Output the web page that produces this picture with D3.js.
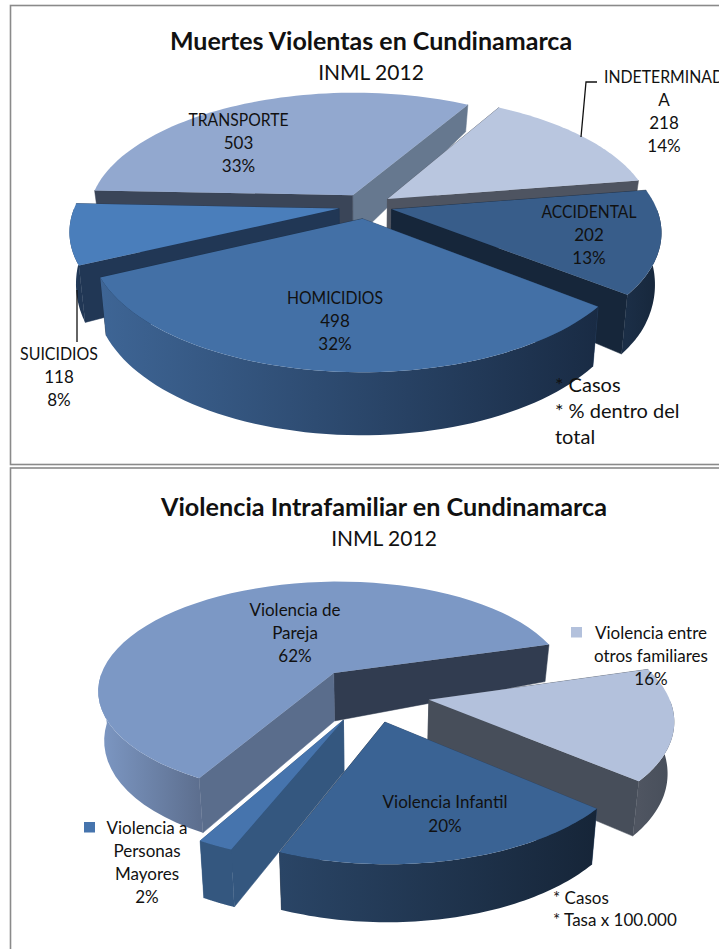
<!DOCTYPE html>
<html lang="es">

<head>
    <meta charset="UTF-8">
    <script src="https://d3js.org/d3.v7.min.js"></script>
    <title>Muertes Violentas y Violencia Intrafamiliar en Cundinamarca</title>
    <style>
        html, body {
            margin: 0;
            padding: 0;
            background: white;
        }

        svg {
            display: block;
        }

        text {
            font-family: Lato, "Open Sans", sans-serif;
            fill: #111;
        }
    </style>
</head>

<body>
    <svg id="page" width="719" height="949"></svg>
    <script>
        /*------------------- chart values --------------------*/
        const muertesCategories = ["TRANSPORTE", "INDETERMINADA", "ACCIDENTAL", "HOMICIDIOS", "SUICIDIOS"];
        const muertesValues = [503, 218, 202, 498, 118];

        // shares, the labels round them
        const violenciaCategories = ["Violencia de Pareja", "Violencia entre otros familiares", "Violencia Infantil", "Violencia a Personas Mayores"];
        const violenciaValues = [62.4, 15.8, 19.8, 2];

        /*------------------- slice colours --------------------*/
        // top face, first cut, second cut, wall left, wall right
        const muertesColors = [
            ["#92a8cf", "#3a4558", "#66788f", "#66788f", "#66788f"],
            ["#b9c6df", "#4e5461", "#4e5461", "#4e5461", "#4e5461"],
            ["#385d8a", "#16263a", "#16263a", "#1b2e46", "#16263a"],
            ["#4370a6", "#2a4567", "#1d3049", "#3e6595", "#192b44"],
            ["#4a7ebb", "#213755", "#213755", "#2a4669", "#213755"]
        ];
        const violenciaColors = [
            ["#7c98c5", "#5a6d8c", "#313c50", "#7d98c4", "#5d6f8f"],
            ["#b3c1dc", "#474e5a", "#474e5a", "#4f5561", "#474e5a"],
            ["#3a6394", "#2a4566", "#162538", "#2a4566", "#162538"],
            ["#4674ad", "#34577f", "#34577f", "#34577f", "#34577f"]
        ];

        const svg = d3.select("#page");
        const defs = svg.append("defs");
        const deg = Math.PI / 180;

        /*------------------- frames --------------------*/
        svg.append("rect").attr("x", 10.5).attr("y", 5.5).attr("width", 760).attr("height", 459)
            .attr("fill", "none").attr("stroke", "#8a8a8a").attr("stroke-width", 1.6);
        svg.append("rect").attr("x", 10.5).attr("y", 468).attr("width", 760).attr("height", 520)
            .attr("fill", "none").attr("stroke", "#8a8a8a").attr("stroke-width", 1.6);

        /*------------------- one perspective pie --------------------*/
        function drawPie(id, values, colors, view, drawOrder) {
            const pie = d3.pie().sort(null)
                .startAngle(view.start * deg)
                .endAngle((view.start + 360) * deg);
            const arcs = pie(values);

            const depth = d3.scaleLinear().domain(view.depthAt).range(view.depthPx).clamp(true);

            // plane position to screen, z = 0 top face, z = 1 bottom face
            const project = (u, v, z) => {
                const scale = view.radius / (1 - view.persp * v);
                return [
                    view.cx + u * scale * (1 - view.shrink * z),
                    view.cy + v * view.tilt * scale + z * depth(v)
                ];
            };
            const line = d3.line();
            const g = svg.append("g");

            drawOrder.forEach(i => {
                const d = arcs[i];
                const mid = (d.startAngle + d.endAngle) / 2;
                const ou = view.explode[i] * Math.sin(mid);
                const ov = -view.explode[i] * Math.cos(mid);
                const steps = d3.range(0, 61).map(k => d.startAngle + (d.endAngle - d.startAngle) * k / 60);
                const rim = (list, z) => list.map(a => project(ou + Math.sin(a), ov - Math.cos(a), z));
                const apex = z => project(ou, ov, z);
                const top = rim(steps, 0), bottom = rim(steps, 1);

                // the two cut faces
                const cut = (edgeTop, edgeBottom, fill) => g.append("path")
                    .attr("d", line([apex(0), edgeTop, edgeBottom, apex(1)]) + "Z")
                    .attr("fill", fill).attr("stroke", fill).attr("stroke-width", .5);
                // the one lying higher on screen goes first
                const startCut = () => cut(top[0], bottom[0], colors[i][1]);
                const endCut = () => cut(top[60], bottom[60], colors[i][2]);
                if (top[0][1] < top[60][1]) { startCut(); endCut(); } else { endCut(); startCut(); }

                // outer wall, only the part facing the viewer
                const front = steps.filter(a => Math.cos(a) < 0);
                if (front.length > 1) {
                    const frontTop = rim(front, 0), frontBottom = rim(front, 1);
                    const ext = d3.extent(frontTop, p => p[0]);
                    const gradId = `${id}-wall-${i}`;
                    const grad = defs.append("linearGradient").attr("id", gradId)
                        .attr("gradientUnits", "userSpaceOnUse")
                        .attr("x1", ext[0]).attr("x2", ext[1]).attr("y1", 0).attr("y2", 0);
                    grad.append("stop").attr("offset", 0).attr("stop-color", colors[i][3]);
                    grad.append("stop").attr("offset", 1).attr("stop-color", colors[i][4]);
                    g.append("path")
                        .attr("d", line(frontTop.concat(frontBottom.reverse())) + "Z")
                        .attr("fill", `url(#${gradId})`);
                }

                // top face
                g.append("path")
                    .attr("d", line([apex(0)].concat(top)) + "Z")
                    .attr("fill", colors[i][0]);
            });
        }

        drawPie("muertes", muertesValues, muertesColors, {
            cx: 365.5, cy: 206, radius: 264, tilt: .466, persp: .168, shrink: .022,
            start: 272.3, explode: [.102, .102, .102, .102, .102],
            depthAt: [-.96, .5, 1.1], depthPx: [27, 58, 63]
        }, [0, 1, 4, 2, 3]);

        drawPie("violencia", violenciaValues, violenciaColors, {
            cx: 370, cy: 694, radius: 239, tilt: .465, persp: .152, shrink: .022,
            start: 209, explode: [.25, .25, .25, .25],
            depthAt: [-.4, -.2, .4, 1.25], depthPx: [37, 48, 53, 58]
        }, [0, 1, 3, 2]);

        /*------------------- leader lines, legend keys --------------------*/
        const leader = d3.line();
        svg.append("path").attr("d", leader([[597, 82], [586, 82], [581, 137]]))
            .attr("fill", "none").attr("stroke", "#111").attr("stroke-width", 1.3);
        svg.append("path").attr("d", leader([[77, 290], [77, 342]]))
            .attr("fill", "none").attr("stroke", "#111").attr("stroke-width", 1.3);
        svg.append("rect").attr("x", 84).attr("y", 822).attr("width", 11).attr("height", 10.5).attr("fill", violenciaColors[3][0]);
        svg.append("rect").attr("x", 571).attr("y", 627).attr("width", 11).attr("height", 10.5).attr("fill", violenciaColors[1][0]);

        /*------------------- text --------------------*/
        // firstWidth squeezes the capitals of the first line to the width they have in the picture
        function label(x, y, lines, size, lineGap, anchor, weight, firstWidth) {
            lines.forEach((s, k) => {
                const t = svg.append("text")
                    .attr("x", x).attr("y", y + k * lineGap)
                    .attr("font-size", size)
                    .attr("text-anchor", anchor || "middle")
                    .attr("font-weight", weight || "normal")
                    .text(s);
                if (firstWidth && k === 0) {
                    t.attr("textLength", firstWidth).attr("lengthAdjust", "spacingAndGlyphs");
                }
            });
        }

        const muertesTotal = d3.sum(muertesValues);
        const muertesLine = i => [String(muertesValues[i]), d3.format(".0%")(muertesValues[i] / muertesTotal)];
        const violenciaPct = i => d3.format(".0f")(violenciaValues[i]) + "%";

        label(371, 50, ["Muertes Violentas en Cundinamarca"], 25, 0, "middle", "bold");
        label(371, 80, ["INML 2012"], 21, 0);
        label(238.5, 126, [muertesCategories[0]].concat(muertesLine(0)), 17, 23, "middle", "normal", 100);
        label(664, 83, ["INDETERMINAD", "A"].concat(muertesLine(1)), 17, 23, "middle", "normal", 120);
        label(589, 218, [muertesCategories[2]].concat(muertesLine(2)), 17, 23, "middle", "normal", 95);
        label(335, 304, [muertesCategories[3]].concat(muertesLine(3)), 17, 23, "middle", "normal", 96);
        label(59, 360, [muertesCategories[4]].concat(muertesLine(4)), 17, 23, "middle", "normal", 78);
        label(555, 392, ["* Casos", "* % dentro del", "total"], 20, 26, "start");

        label(384, 516, ["Violencia Intrafamiliar en Cundinamarca"], 25.2, 0, "middle", "bold");
        label(384, 546, ["INML 2012"], 21, 0);
        label(295, 616, ["Violencia de", "Pareja", violenciaPct(0)], 17, 23);
        label(651, 639, ["Violencia entre", "otros familiares", violenciaPct(1)], 17, 23);
        label(445, 808, [violenciaCategories[2], violenciaPct(2)], 17, 23.5);
        label(147, 834, ["Violencia a", "Personas", "Mayores", violenciaPct(3)], 17, 23);
        label(553, 904, ["* Casos", "* Tasa x 100.000"], 17, 21.5, "start");
    </script>
</body>

</html>
